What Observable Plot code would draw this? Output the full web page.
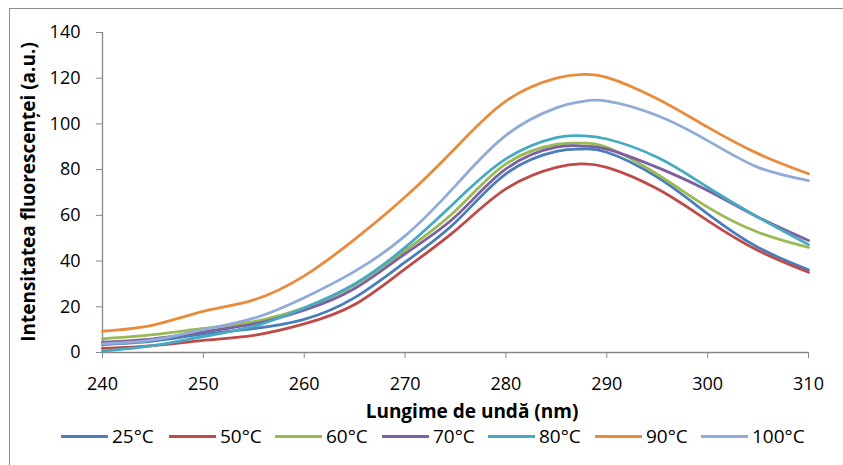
<!DOCTYPE html>
<html>
<head>
<meta charset="utf-8">
<script src="https://cdn.jsdelivr.net/npm/d3@7"></script>
<script src="https://cdn.jsdelivr.net/npm/@observablehq/plot@0.6"></script>
<style>
  html, body { margin: 0; padding: 0; width: 843px; height: 465px; overflow: hidden; background: #fff; }
  #frame { position: absolute; left: 9px; top: 8px; width: 1000px; height: 600px; border: 1px solid #8c8c8c; box-sizing: border-box; }
  #chart { position: absolute; left: 0; top: 0; }
  #legend { position: absolute; left: 0; top: 422px; width: 843px; height: 43px; font-family: "Open Sans", sans-serif; font-size: 19px; color: #000; }
  .item { position: absolute; top: 0; height: 28px; display: flex; align-items: center; }
  .item .sw { width: 47px; height: 3px; margin-right: 4px; }
  .item span { line-height: 28px; }
</style>
</head>
<body>
<div id="frame"></div>
<div id="chart"></div>
<div id="legend"></div>
<script>
const wavelengths = [240, 245, 250, 255, 260, 265, 270, 275, 280, 285, 287.5, 290, 295, 300, 305, 310];
const seriesNames = ["25°C", "50°C", "60°C", "70°C", "80°C", "90°C", "100°C"];
const s25  = [3.5, 5.0, 8.0, 10.5, 14.5, 24.0, 39.5, 57.0, 78.2, 88.0, 89.0, 87.6, 76.7, 60.7, 46.0, 36.2];
const s50  = [1.8, 3.0, 5.3, 7.5, 12.5, 21.0, 36.6, 53.4, 71.6, 81.0, 82.5, 81.0, 71.6, 57.7, 44.6, 35.1];
const s60  = [6.0, 7.8, 10.5, 13.5, 19.5, 29.5, 44.6, 62.0, 82.5, 91.0, 91.6, 89.8, 78.0, 63.6, 52.6, 46.0];
const s70  = [4.5, 6.0, 9.0, 12.5, 18.5, 28.0, 43.2, 59.5, 80.3, 89.8, 90.3, 89.0, 81.0, 70.9, 59.2, 49.0];
const s80  = [0.6, 3.0, 7.0, 11.5, 19.5, 30.0, 46.0, 66.0, 84.7, 94.0, 94.8, 93.4, 85.4, 72.3, 59.2, 47.2];
const s90  = [9.3, 12.0, 18.0, 23.0, 33.5, 49.5, 68.0, 89.5, 110.0, 120.0, 121.6, 120.4, 111.0, 98.6, 87.0, 78.2];
const s100 = [3.8, 5.5, 10.0, 15.0, 24.0, 35.5, 51.0, 73.0, 95.0, 107.0, 109.8, 110.0, 103.7, 92.7, 81.0, 75.2];
const colors = ["#4A7EBB", "#BE4B48", "#98B954", "#7D60A0", "#46AAC5", "#E98B3A", "#91ABD6"];
const xTicks = [240, 250, 260, 270, 280, 290, 300, 310];
const yTicks = [0, 20, 40, 60, 80, 100, 120, 140];
const xTitle = "Lungime de undă (nm)";
const yTitle = "Intensitatea fluorescenței (a.u.)";

const allSeries = [s25, s50, s60, s70, s80, s90, s100];
const data = [];
allSeries.forEach((vals, i) => {
  vals.forEach((v, j) => data.push({ series: seriesNames[i], wl: wavelengths[j], value: v }));
});

const font = '"Open Sans", sans-serif';
const chart = Plot.plot({
  width: 843,
  height: 422,
  marginLeft: 102,
  marginRight: 35,
  marginTop: 32,
  marginBottom: 70,
  style: { fontFamily: font, fontSize: "18px", color: "#000", background: "transparent", overflow: "visible" },
  x: { domain: [240, 310], label: null },
  y: { domain: [0, 140], label: null },
  color: { domain: seriesNames, range: colors },
  marks: [
    Plot.axisX({ ticks: xTicks, tickSize: 6, tickPadding: 19, stroke: "#868686", fill: "#000", fontSize: 18, label: null }),
    Plot.axisY({ ticks: yTicks, tickSize: 6, tickPadding: 16, stroke: "#868686", fill: "#000", fontSize: 18, label: null }),
    Plot.ruleY([0], { stroke: "#868686", strokeWidth: 1.3 }),
    Plot.ruleX([240], { stroke: "#868686", strokeWidth: 1.3 }),
    Plot.line(data, { x: "wl", y: "value", z: "series", stroke: "series", strokeWidth: 2.8, curve: "natural" })
  ]
});
document.getElementById("chart").appendChild(chart);

const svg = d3.select(chart);
// y axis title
svg.append("text")
  .attr("transform", "translate(35,192) rotate(-90)")
  .attr("text-anchor", "middle")
  .attr("font-family", font)
  .attr("font-size", 19)
  .attr("font-weight", "bold")
  .attr("fill", "#000")
  .text(yTitle);
// x axis title
svg.append("text")
  .attr("x", 472)
  .attr("y", 418)
  .attr("text-anchor", "middle")
  .attr("font-family", font)
  .attr("font-size", 19)
  .attr("font-weight", "bold")
  .attr("fill", "#000")
  .text(xTitle);

// legend
const legend = document.getElementById("legend");
const starts = [61, 169, 275, 382, 488, 595, 701];
seriesNames.forEach((name, i) => {
  const it = document.createElement("div");
  it.className = "item";
  it.style.left = starts[i] + "px";
  it.innerHTML = `<div class="sw" style="background:${colors[i]}"></div><span>${name}</span>`;
  legend.appendChild(it);
});
</script>
</body>
</html>
